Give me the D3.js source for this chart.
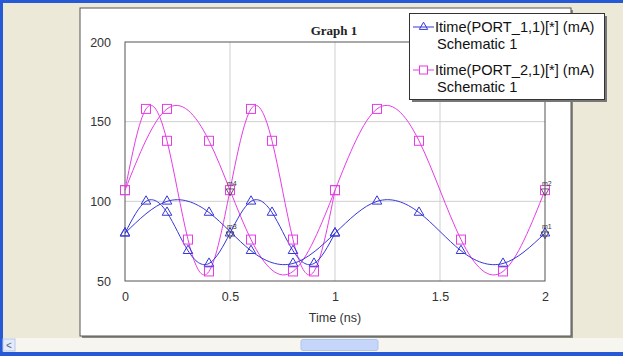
<!DOCTYPE html>
<html><head><meta charset="utf-8">
<script src="https://cdn.jsdelivr.net/npm/d3@7"></script>
<style>html,body{margin:0;padding:0;background:#ECE9D8;overflow:hidden}</style>
</head><body>
<script>
// ---- data ----
const timeFast = [0,0.1,0.2,0.3,0.4,0.5,0.6,0.7,0.8,0.9,1.0];
const timeSlow = [0,0.2,0.4,0.6,0.8,1.0,1.2,1.4,1.6,1.8,2.0];
const port1Fast = [80,100,93,69,61,80,100,93,69,61,80];
const port1Slow = [80,100,93,69,61,80,100,93,69,61,80];
const port2Fast = [107,158,138,76,56,107,158,138,76,56,107];
const port2Slow = [107,158,138,76,56,107,158,138,76,56,107];
const xTicks = [0,0.5,1,1.5,2];
const yTicks = [50,100,150,200];
const legendLabels = ["Itime(PORT_1,1)[*] (mA)","Itime(PORT_2,1)[*] (mA)"];
const legendSub = "Schematic 1";
const markers = [
  {t:0.5, v:107, label:"m4"},{t:0.5, v:80, label:"m3"},
  {t:2, v:107, label:"m2"},{t:2, v:80, label:"m1"}
];

const W=623,H=356;
const blue="#3636d8", pink="#e63ce6";
const svg=d3.select("body").append("svg").attr("width",W).attr("height",H);
const font="'Liberation Sans',Arial,sans-serif";

// window chrome
svg.append("rect").attr("x",0).attr("y",0).attr("width",W).attr("height",H).attr("fill","#ECE9D8");
svg.append("rect").attr("x",0).attr("y",0).attr("width",W).attr("height",3).attr("fill","#2659d6");
svg.append("rect").attr("x",0).attr("y",0).attr("width",3).attr("height",H).attr("fill","#2659d6");
// scrollbar
svg.append("rect").attr("x",3).attr("y",338).attr("width",W-3).attr("height",14).attr("fill","#f6f5ef");
svg.append("rect").attr("x",3).attr("y",339).attr("width",12).attr("height",12).attr("fill","#e4ebfb").attr("stroke","#b8c8ee");
svg.append("text").attr("x",9).attr("y",349).attr("text-anchor","middle").attr("font-family",font).attr("font-size",10).attr("fill","#4d6185").text("<");
svg.append("rect").attr("x",301).attr("y",339.5).attr("width",77).attr("height",11).attr("rx",2).attr("fill","#c6d6fa").attr("stroke","#b0c4f0");
svg.append("rect").attr("x",0).attr("y",352).attr("width",W).attr("height",4).attr("fill","#2659d6");

// panel
svg.append("rect").attr("x",82).attr("y",10).attr("width",491).attr("height",328).attr("fill","#8a8a80");
svg.append("rect").attr("x",80).attr("y",8).attr("width",491).attr("height",328).attr("fill","#fff").attr("stroke","#555").attr("stroke-width",1);

const x=d3.scaleLinear().domain([0,2]).range([125,545]);
const y=d3.scaleLinear().domain([50,200]).range([281,42]);

// grid
const g=svg.append("g");
g.selectAll(".gx").data(xTicks.slice(1,-1)).enter().append("line")
 .attr("x1",d=>x(d)).attr("x2",d=>x(d)).attr("y1",y(200)).attr("y2",y(50)).attr("stroke","#cfcfcf");
g.selectAll(".gy").data(yTicks.slice(1,-1)).enter().append("line")
 .attr("y1",d=>y(d)).attr("y2",d=>y(d)).attr("x1",x(0)).attr("x2",x(2)).attr("stroke","#cfcfcf");
svg.append("rect").attr("x",x(0)).attr("y",y(200)).attr("width",x(2)-x(0)).attr("height",y(50)-y(200))
 .attr("fill","none").attr("stroke","#555");

// axes (labels only)
const xa=svg.append("g").attr("transform",`translate(0,${y(50)})`)
 .call(d3.axisBottom(x).tickValues(xTicks).tickSize(0).tickPadding(11).tickFormat(d3.format("")));
const ya=svg.append("g").attr("transform",`translate(${x(0)},0)`)
 .call(d3.axisLeft(y).tickValues(yTicks).tickSize(0).tickPadding(14));
[xa,ya].forEach(a=>{a.select(".domain").remove();a.selectAll("text").attr("font-family",font).attr("font-size",12.5).attr("fill","#333");});

svg.append("text").attr("x",335).attr("y",322).attr("text-anchor","middle").attr("font-family",font).attr("font-size",12.5).attr("fill","#333").text("Time (ns)");
svg.append("text").attr("x",334).attr("y",35).attr("text-anchor","middle").attr("font-family","'Liberation Serif','Times New Roman',serif").attr("font-weight","bold").attr("font-size",13).attr("fill","#222").text("Graph 1");

// traces
const line=d3.line().x(d=>x(d[0])).y(d=>y(d[1])).curve(d3.curveNatural);
const traces=[
 {t:timeSlow,v:port2Slow,c:pink,m:"sq"},{t:timeFast,v:port2Fast,c:pink,m:"sq"},
 {t:timeSlow,v:port1Slow,c:blue,m:"tri"},{t:timeFast,v:port1Fast,c:blue,m:"tri"}
];
const tri=d3.symbol().type(d3.symbolTriangle).size(40);
function marker(sel,m,c){
  if(m==="sq") sel.append("rect").attr("x",-4.5).attr("y",-4.5).attr("width",9).attr("height",9).attr("fill","none").attr("stroke",c);
  else sel.append("path").attr("d",tri()).attr("fill","none").attr("stroke",c);
}
traces.forEach(tr=>{
  const pts=tr.t.map((t,i)=>[t,tr.v[i]]);
  svg.append("path").datum(pts).attr("d",line).attr("fill","none").attr("stroke",tr.c).attr("stroke-width",1);
});
traces.forEach(tr=>{
  tr.t.forEach((t,i)=>{
    const s=svg.append("g").attr("transform",`translate(${x(t)},${y(tr.v[i])})`);
    marker(s,tr.m,tr.c);
  });
});
// data markers m1..m4
markers.forEach(mk=>{
  const s=svg.append("g").attr("transform",`translate(${x(mk.t)},${y(mk.v)})`);
  s.append("path").attr("d",d3.symbol().type(d3.symbolTriangle).size(26)()).attr("transform","rotate(180) translate(0,-1)").attr("fill","none").attr("stroke","#333").attr("stroke-width",0.8);
  s.append("text").attr("x",-3).attr("y",-4).attr("font-family",font).attr("font-size",7).attr("fill","#333").text(mk.label);
});

// legend
svg.append("rect").attr("x",412).attr("y",16).attr("width",195).attr("height",86).attr("fill","#777");
svg.append("rect").attr("x",409.5).attr("y",13.5).attr("width",195).attr("height",86).attr("fill","#fff").attr("stroke","#333");
const leg=[{c:blue,m:"tri",y:27},{c:pink,m:"sq",y:70}];
leg.forEach((l,i)=>{
  svg.append("line").attr("x1",413).attr("x2",434).attr("y1",l.y).attr("y2",l.y).attr("stroke",l.c);
  const s=svg.append("g").attr("transform",`translate(423.5,${l.y})`);
  if(l.m==="sq") s.append("rect").attr("x",-4).attr("y",-4).attr("width",8).attr("height",8).attr("fill","#fff").attr("stroke",l.c);
  else s.append("path").attr("d",d3.symbol().type(d3.symbolTriangle).size(30)()).attr("fill","none").attr("stroke",l.c);
  svg.append("text").attr("x",435).attr("y",l.y+5).attr("font-family",font).attr("font-size",14.6).attr("fill","#111").text(legendLabels[i]);
  svg.append("text").attr("x",437).attr("y",l.y+22).attr("font-family",font).attr("font-size",14.6).attr("fill","#111").text(legendSub);
});
</script>
</body></html>
